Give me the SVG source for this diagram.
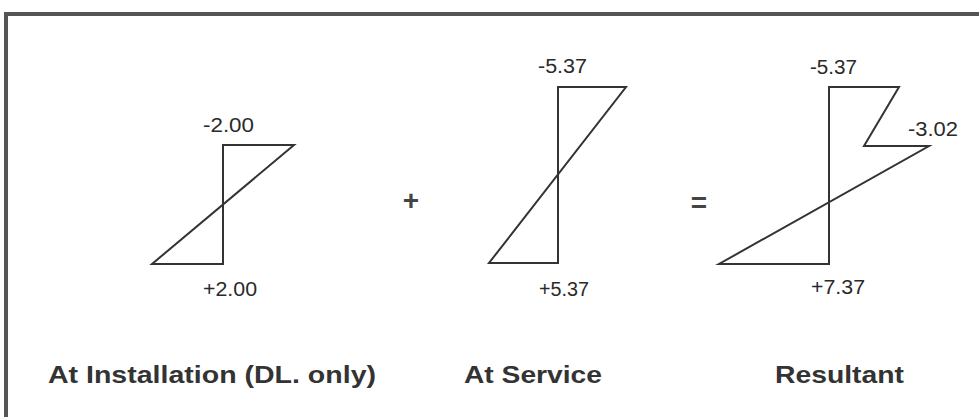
<svg xmlns="http://www.w3.org/2000/svg" width="979" height="417" viewBox="0 0 979 417">
<style>
.bg{fill:#ffffff}
.frame{fill:none;stroke:#555555;stroke-width:4}
.diag{fill:none;stroke:#333333;stroke-width:2;stroke-linejoin:miter}
.num{font-family:"Liberation Sans",Arial,sans-serif;font-size:20px;fill:#2a2a2a}
.op{font-family:"Liberation Sans",Arial,sans-serif;font-size:28px;font-weight:bold;fill:#444444;text-anchor:middle}
.cap{font-family:"Liberation Sans",Arial,sans-serif;font-size:24px;font-weight:bold;fill:#333333}
</style>
<rect class="bg" x="0" y="0" width="979" height="417"/>
<path class="frame" d="M6 417 V14 H979"/>
<g id="installation">
<polygon class="diag" points="152,264 223,264 223,145 294,145"/>
<text class="num" x="203" y="132" textLength="51" lengthAdjust="spacingAndGlyphs">-2.00</text>
<text class="num" x="203" y="296" textLength="54" lengthAdjust="spacingAndGlyphs">+2.00</text>
<text class="cap" x="48" y="383" textLength="328" lengthAdjust="spacingAndGlyphs">At Installation (DL. only)</text>
</g>
<g id="plus">
<text class="op" x="411" y="210">+</text>
</g>
<g id="service">
<polygon class="diag" points="489,263 558,263 558,87 626,87"/>
<text class="num" x="538" y="73" textLength="49" lengthAdjust="spacingAndGlyphs">-5.37</text>
<text class="num" x="539" y="296" textLength="50" lengthAdjust="spacingAndGlyphs">+5.37</text>
<text class="cap" x="464" y="383" textLength="138" lengthAdjust="spacingAndGlyphs">At Service</text>
</g>
<g id="equals">
<text class="op" x="699" y="212">=</text>
</g>
<g id="resultant">
<polygon class="diag" points="719,264 829,264 829,87 899,87 864,146 929,146"/>
<text class="num" x="810" y="74" textLength="47" lengthAdjust="spacingAndGlyphs">-5.37</text>
<text class="num" x="908" y="136" textLength="50" lengthAdjust="spacingAndGlyphs">-3.02</text>
<text class="num" x="811" y="294" textLength="54" lengthAdjust="spacingAndGlyphs">+7.37</text>
<text class="cap" x="775" y="383" textLength="129" lengthAdjust="spacingAndGlyphs">Resultant</text>
</g>
<g id="connectors"></g>
</svg>
